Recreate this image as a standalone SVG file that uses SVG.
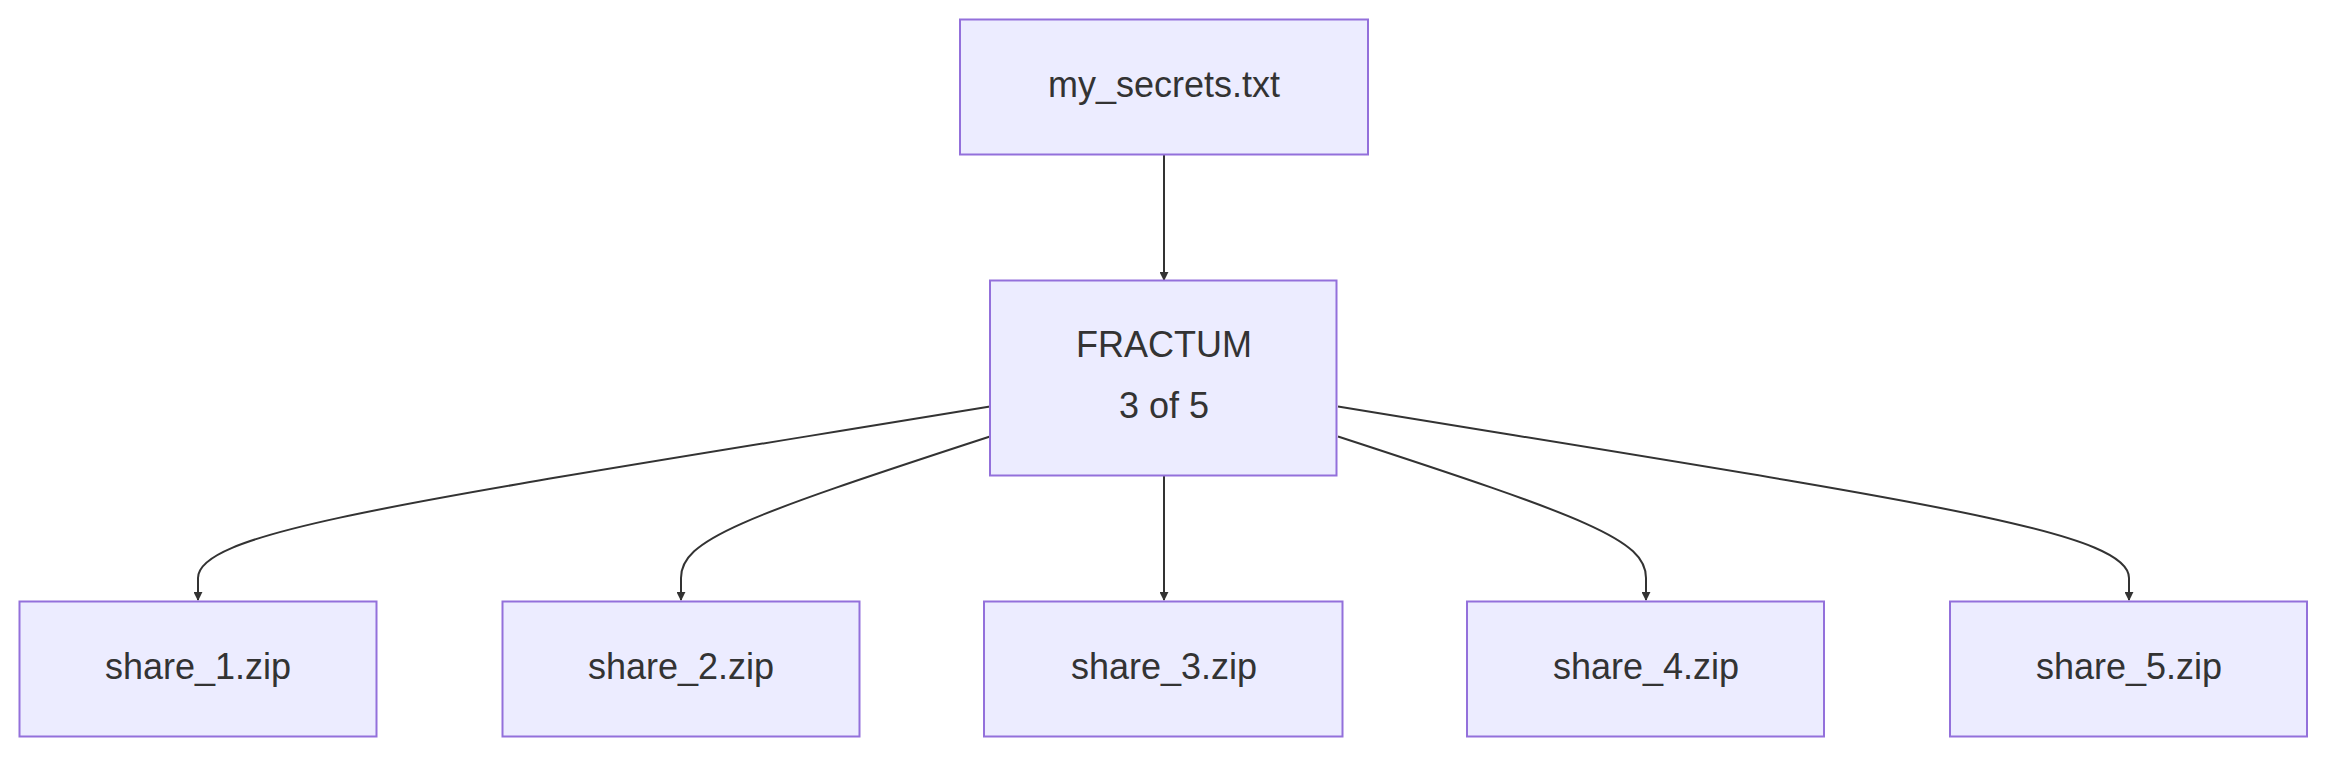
<svg xmlns="http://www.w3.org/2000/svg" width="2352" height="765" viewBox="0 0 2352 765">
<style>
.n rect{fill:#ECECFF;stroke:#9370DB;stroke-width:2}
.n text{font-family:"Liberation Sans",Arial,sans-serif;font-size:36px;fill:#333;text-anchor:middle;dominant-baseline:central}
.e path{fill:none;stroke:#333;stroke-width:2;marker-end:url(#a)}
</style>
<defs><marker id="a" viewBox="0 0 10 10" refX="9" refY="5" markerWidth="9" markerHeight="9" markerUnits="userSpaceOnUse" orient="auto"><path d="M0,0L10,5L0,10z" fill="#333"/></marker></defs>
<rect width="2352" height="765" fill="#fff"/>
<g class="e">
<path d="M1164,154.5V280" stroke-width="2" transform="translate(0,0)"/>
<path d="M990,406.5C420,500 198,530 198,578V600"/>
<path d="M990,436.5C740,518 681,540 681,578V600"/>
<path d="M1164,475.5V600"/>
<path d="M1338,436.5C1588,518 1646,540 1646,578V600"/>
<path d="M1338,406.5C1908,500 2129,530 2129,578V600"/>
</g>
<g id="secrets" class="n"><rect x="960" y="19.5" width="408" height="135"/><text x="1164" y="84">my_secrets.txt</text></g>
<g id="fractum" class="n"><rect x="990" y="280.5" width="346.5" height="195"/><text x="1164" y="344">FRACTUM</text><text x="1164" y="405">3 of 5</text></g>
<g id="s1" class="n"><rect x="19.5" y="601.5" width="357" height="135"/><text x="198" y="666">share_1.zip</text></g>
<g id="s2" class="n"><rect x="502.5" y="601.5" width="357" height="135"/><text x="681" y="666">share_2.zip</text></g>
<g id="s3" class="n"><rect x="984" y="601.5" width="358.5" height="135"/><text x="1164" y="666">share_3.zip</text></g>
<g id="s4" class="n"><rect x="1467" y="601.5" width="357" height="135"/><text x="1646" y="666">share_4.zip</text></g>
<g id="s5" class="n"><rect x="1950" y="601.5" width="357" height="135"/><text x="2129" y="666">share_5.zip</text></g>
</svg>
